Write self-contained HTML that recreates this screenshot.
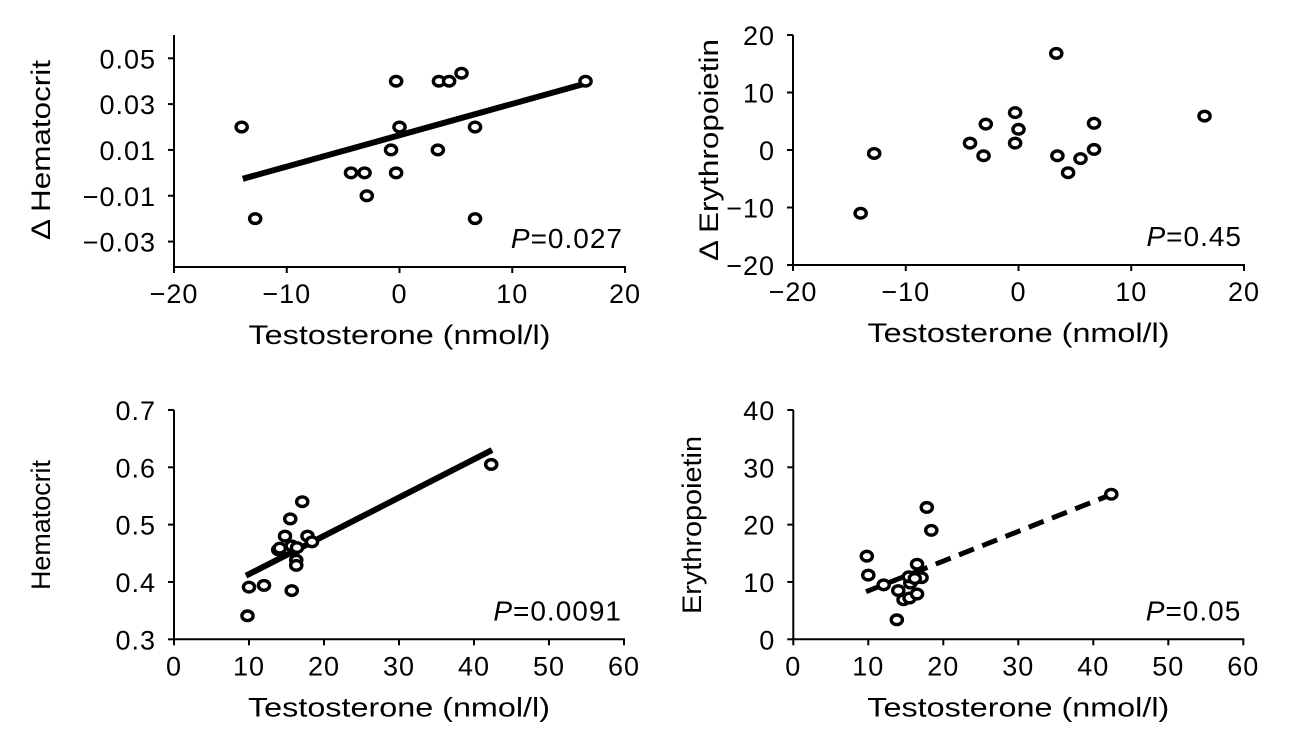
<!DOCTYPE html>
<html><head><meta charset="utf-8"><style>
html,body{margin:0;padding:0;background:#fff;}
svg{display:block;font-family:"Liberation Sans",Arial,sans-serif;}
</style></head><body>
<svg id="fig" width="1301" height="746" viewBox="0 0 1301 746"></svg>
<script>
// Panel A: delta testosterone vs delta hematocrit
const aX=[-14.0,-12.8,-4.3,-3.1,-2.9,-0.75,-0.3,-0.3,0,3.4,3.5,4.4,5.5,6.7,6.7,16.5];
const aY=[0.02,-0.02,0,0,-0.01,0.01,0,0.04,0.02,0.01,0.04,0.04,0.0435,0.02,-0.02,0.04];
const aFitX=[-13.9,16.5];
const aFitY=[-0.0026,0.039];
const aXTicks=[-20,-10,0,10,20];
const aYTicks=[0.05,0.03,0.01,-0.01,-0.03];
const aYLabels=["0.05","0.03","0.01","\u22120.01","\u22120.03"];
// Panel B: delta testosterone vs delta erythropoietin
const bX=[-14.0,-12.8,-4.3,-3.1,-2.9,-0.3,-0.3,0,3.35,3.45,4.4,5.5,6.7,6.7,16.5];
const bY=[-11,-0.6,1.2,-1.0,4.5,6.5,1.2,3.6,16.8,-1.0,-3.95,-1.5,4.65,0.1,5.9];
const bXTicks=[-20,-10,0,10,20];
const bYTicks=[20,10,0,-10,-20];
const bYLabels=["20","10","0","\u221210","\u221220"];
// Panel C: testosterone vs hematocrit
const cX=[9.8,10,12,15.5,14.8,13.9,14.1,15.7,17.1,15.7,16.4,16.3,16.3,17.8,18.4,42.3];
const cY=[0.341,0.391,0.394,0.51,0.48,0.456,0.459,0.385,0.54,0.463,0.46,0.438,0.429,0.48,0.47,0.605];
const cFitX=[9.6,42.4];
const cFitY=[0.411,0.63];
const cXTicks=[0,10,20,30,40,50,60];
const cYTicks=[0.7,0.6,0.5,0.4,0.3];
const cYLabels=["0.7","0.6","0.5","0.4","0.3"];
// Panel D: testosterone vs erythropoietin
const dX=[9.8,10,12.05,13.8,14,14.7,15.5,15.6,15.4,16.5,16.5,17.1,16.2,17.8,18.4,42.4];
const dY=[14.5,11.2,9.5,3.4,8.5,6.9,7.2,9.8,10.9,13.1,7.9,10.75,10.6,23.0,19.0,25.3];
const dFitX=[9.7,42.5];
const dFitY=[8.3,25.3];
const dXTicks=[0,10,20,30,40,50,60];
const dYTicks=[40,30,20,10,0];
const dYLabels=["40","30","20","10","0"];

const NS="http://www.w3.org/2000/svg";
const svg=document.getElementById('fig');
function mk(tag,attrs,parent){const e=document.createElementNS(NS,tag);for(const k in attrs)e.setAttribute(k,attrs[k]);(parent||svg).appendChild(e);return e;}

function panel(o){
  const g=mk('g',{});
  
  
  const sx=v=>o.x0+(v-o.xd[0])/(o.xd[1]-o.xd[0])*(o.x1-o.x0);
  const sy=v=>o.yb-(v-o.yd[0])/(o.yd[1]-o.yd[0])*(o.yb-o.ytp);
  const ya=mk('line',{x1:o.x0,y1:o.axTop,x2:o.x0,y2:o.yb+1,stroke:'#000','stroke-width':2},g);
  
  
  const xa=mk('line',{x1:o.x0-1,y1:o.yb,x2:o.x1+1,y2:o.yb,stroke:'#000','stroke-width':2},g);
  
  
  o.xt.forEach(v=>{
    mk('line',{x1:sx(v),y1:o.yb,x2:sx(v),y2:o.yb+6,stroke:'#000','stroke-width':2},g);
    const t=mk('text',{x:sx(v),y:o.yb+36,'font-size':27,'letter-spacing':1,'text-anchor':'middle'},g);
    t.textContent=(v<0?'\u2212'+(-v):String(v));
    
    
  });
  o.yt.forEach((v,i)=>{
    mk('line',{x1:o.x0-6,y1:sy(v),x2:o.x0,y2:sy(v),stroke:'#000','stroke-width':2},g);
    const t=mk('text',{x:o.x0-18,y:sy(v)+10,'font-size':27,'letter-spacing':1,'text-anchor':'end'},g);
    t.textContent=o.yl[i];
    
    
  });
  if(o.fx){
    const l=mk('line',{x1:sx(o.fx[0]),y1:sy(o.fy[0]),x2:sx(o.fx[1]),y2:sy(o.fy[1]),stroke:'#000','stroke-width':o.dash?5:6},g);
    if(o.dash)l.setAttribute('stroke-dasharray','16 9');
    
    
  }
  o.px.forEach((v,i)=>{
    const c=mk('ellipse',{cx:sx(v),cy:sy(o.py[i]),rx:5.6,ry:4.8,fill:'#fff',stroke:'#000','stroke-width':3.4},g);
    
    
  });
  const p=mk('text',{x:o.x1-2,y:o.yb-19,'font-size':28,'letter-spacing':1,'text-anchor':'end'},g);
  p.innerHTML='<tspan font-style="italic">P</tspan>=0'+o.p.slice(1);
  
  
  const xt=mk('text',{x:(o.x0+o.x1)/2,y:o.yb+77,'font-size':27,'text-anchor':'middle',textLength:302,lengthAdjust:'spacingAndGlyphs'},g);
  xt.textContent='Testosterone (nmol/l)';
  
  
  const yt=mk('text',{x:0,y:0,'font-size':27,'text-anchor':'middle',textLength:o.tlen,lengthAdjust:'spacingAndGlyphs',transform:`translate(${o.tx},${o.tcy}) rotate(-90)`},g);
  yt.textContent=o.ytitle;
  
  
}
panel({name:'panel-delta-hematocrit',x0:174,x1:625,xd:[-20,20],yb:267,ytp:58.3,yd:[-0.0411,0.05],axTop:35,
  xt:aXTicks,yt:aYTicks,yl:aYLabels,px:aX,py:aY,fx:aFitX,fy:aFitY,p:'0.027',ytitle:'\u0394 Hematocrit',tx:50,tcy:150,tlen:180});
panel({name:'panel-delta-erythropoietin',x0:793,x1:1244,xd:[-20,20],yb:265,ytp:35,yd:[-20,20],axTop:35,
  xt:bXTicks,yt:bYTicks,yl:bYLabels,px:bX,py:bY,p:'0.45',ytitle:'\u0394 Erythropoietin',tx:718,tcy:150,tlen:222});
panel({name:'panel-hematocrit',x0:174,x1:624,xd:[0,60],yb:639.3,ytp:467.3,yd:[0.3,0.6],axTop:410,
  xt:cXTicks,yt:cYTicks,yl:cYLabels,px:cX,py:cY,fx:cFitX,fy:cFitY,p:'0.0091',ytitle:'Hematocrit',tx:50,tcy:525,tlen:130});
panel({name:'panel-erythropoietin',x0:793.3,x1:1243.3,xd:[0,60],yb:639.3,ytp:467.3,yd:[0,30],axTop:410,
  xt:dXTicks,yt:dYTicks,yl:dYLabels,px:dX,py:dY,fx:dFitX,fy:dFitY,dash:true,p:'0.05',ytitle:'Erythropoietin',tx:701,tcy:525,tlen:178});
</script>
</body></html>
